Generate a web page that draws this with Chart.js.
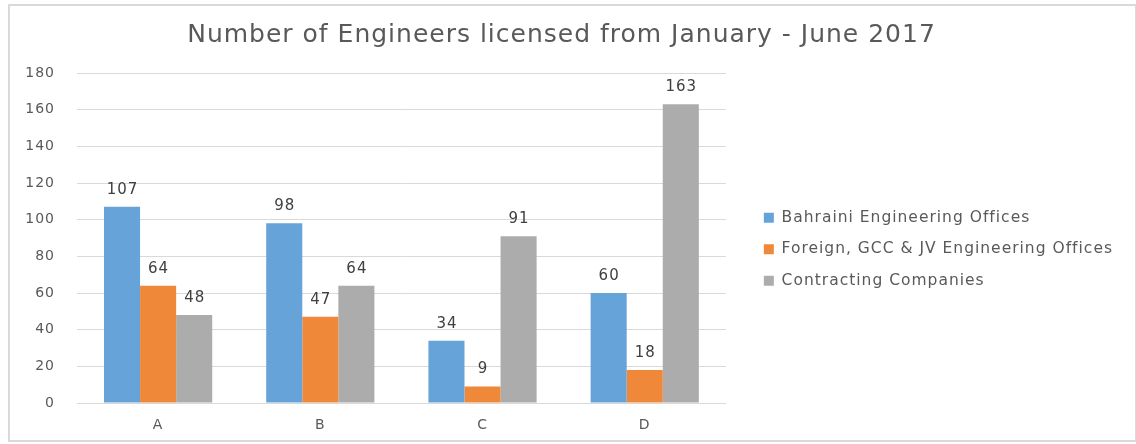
<!DOCTYPE html>
<html>
<head>
<meta charset="utf-8">
<script src="https://cdn.jsdelivr.net/npm/chart.js@4.4.0/dist/chart.umd.min.js"></script>
<style>
	html, body { margin: 0; padding: 0; background: #fff; }
	#wrap { position: relative; width: 1136px; height: 444px; }
	#frame {
		position: absolute; left: 8px; top: 4px; width: 1125px; height: 434px;
		border: 2px solid #d9d9d9; pointer-events: none;
	}
	canvas { position: absolute; left: 0; top: 0; }
</style>
</head>
<body>
<div id="wrap">
	<canvas id="chart" width="1136" height="444"></canvas>
	<div id="frame"></div>
</div>
<script>
const categories = ["A", "B", "C", "D"];
const bahrainiOffices = [107, 98, 34, 60];
const foreignOffices = [64, 47, 9, 18];
const contractingCompanies = [48, 64, 91, 163];
const seriesNames = [
	"Bahraini Engineering Offices",
	"Foreign, GCC & JV Engineering Offices",
	"Contracting Companies",
];
const seriesColors = ["#66a3d8", "#f0883a", "#abacab"];

const FONT = "'DejaVu Sans', sans-serif";
const TEXT = "#595959";

// the original text is set quite wide, so space the letters out a bit
const wideText = {
	id: "wideText",
	beforeUpdate(chart) { chart.ctx.letterSpacing = "1px"; },
	beforeDraw(chart) { chart.ctx.letterSpacing = "1px"; },
};

// value labels above each bar
const barLabels = {
	id: "barLabels",
	afterDatasetsDraw(chart) {
		const { ctx } = chart;
		ctx.save();
		ctx.font = `15px ${FONT}`;
		ctx.fillStyle = "#404040";
		ctx.textAlign = "center";
		ctx.textBaseline = "middle";
		chart.data.datasets.forEach((ds, i) => {
			chart.getDatasetMeta(i).data.forEach((bar, j) => {
				ctx.fillText(String(ds.data[j]), bar.x + 0.5, bar.y - 17);
			});
		});
		ctx.restore();
	},
};

const ctx = document.getElementById("chart").getContext("2d");

new Chart(ctx, {
	type: "bar",
	data: {
		labels: categories,
		datasets: [bahrainiOffices, foreignOffices, contractingCompanies].map((d, i) => ({
			label: seriesNames[i],
			data: d,
			backgroundColor: seriesColors[i],
			borderWidth: 0,
			barPercentage: 1,
			categoryPercentage: 0.667,
		})),
	},
	options: {
		responsive: false,
		animation: false,
		layout: { padding: { top: 0, bottom: 0, left: 0, right: 13 } },
		scales: {
			x: {
				grid: { display: false, drawTicks: false },
				border: { color: "#d9d9d9" },
				ticks: { color: TEXT, font: { family: FONT, size: 14 }, padding: 14 },
				afterFit: (scale) => { scale.height = 41; },
			},
			y: {
				min: 0,
				max: 180,
				ticks: { stepSize: 20, color: TEXT, font: { family: FONT, size: 14 }, padding: 22 },
				grid: { color: "#d9d9d9", drawTicks: false },
				border: { display: false },
				afterFit: (scale) => { scale.width = 77; },
			},
			gap: {
				position: "right",
				display: true,
				min: 0,
				max: 1,
				ticks: { display: false },
				grid: { display: false, drawTicks: false },
				border: { display: false },
				afterFit: (scale) => { scale.width = 22; },
			},
		},
		plugins: {
			title: {
				display: true,
				text: "Number of Engineers licensed from January - June 2017",
				color: TEXT,
				font: { family: FONT, size: 25, weight: "normal" },
				padding: { top: 20, bottom: 23 },
			},
			legend: {
				position: "right",
				fullSize: false,
				maxWidth: 600,
				title: { display: true, text: "", padding: { top: 4, bottom: 4 }, font: { size: 12 } },
				labels: {
					boxWidth: 10,
					boxHeight: 10,
					padding: 16,
					color: TEXT,
					font: { family: FONT, size: 15.5 },
				},
			},
			tooltip: { enabled: false },
		},
	},
	plugins: [wideText, barLabels],
});
</script>
</body>
</html>
